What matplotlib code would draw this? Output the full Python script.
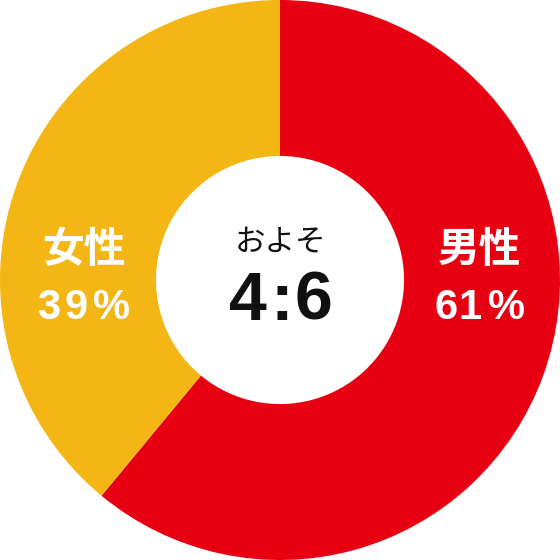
import matplotlib
matplotlib.use("Agg")
import matplotlib.pyplot as plt

plt.rcParams['font.family'] = ['Noto Sans CJK JP', 'DejaVu Sans']

# data
labels = ['男性', '女性']
values = [61, 39]
colors = ['#E60012', '#F4B614']
center_top = 'およそ'
center_ratio = '4:6'

fig = plt.figure(figsize=(5.6, 5.6), dpi=100)
ax = fig.add_axes([0, 0, 1, 1])

wedges, _ = ax.pie(values, colors=colors, startangle=90, counterclock=False,
                   radius=1.0, wedgeprops=dict(width=1.0 - 0.443, linewidth=0))

ax.set_xlim(-1, 1)
ax.set_ylim(-1, 1)
ax.set_aspect('equal')
ax.axis('off')

num_font = ['Liberation Sans', 'DejaVu Sans']


def spaced(x, y, s, offsets_px, **kw):
    # draw each character on its own so the letter spacing can be opened up
    for ch, off in zip(s, offsets_px):
        ax.annotate(ch, (x, y), xytext=(off * 0.72, 0), textcoords='offset points',
                    ha='center', va='center', **kw)


# center text
ax.text(0, 0.132, center_top, ha='center', va='center', fontsize=22, color='#111111')
spaced(0, -0.078, center_ratio, [-32, 1.5, 33], fontsize=49, fontweight='bold',
       color='#111111', family=num_font)

# slice labels
label_x = [0.711, -0.70]
pct_offsets = {61: [-33, -9, 27], 39: [-35, -8, 28]}
for name, val, x in zip(labels, values, label_x):
    ax.text(x, 0.107, name, ha='center', va='center', fontsize=30,
            fontweight='bold', color='white')
    spaced(x, -0.10, f'{val}%', pct_offsets[val], fontsize=30,
           fontweight='bold', color='white', family=num_font)

fig.savefig('out.png', dpi=100)
